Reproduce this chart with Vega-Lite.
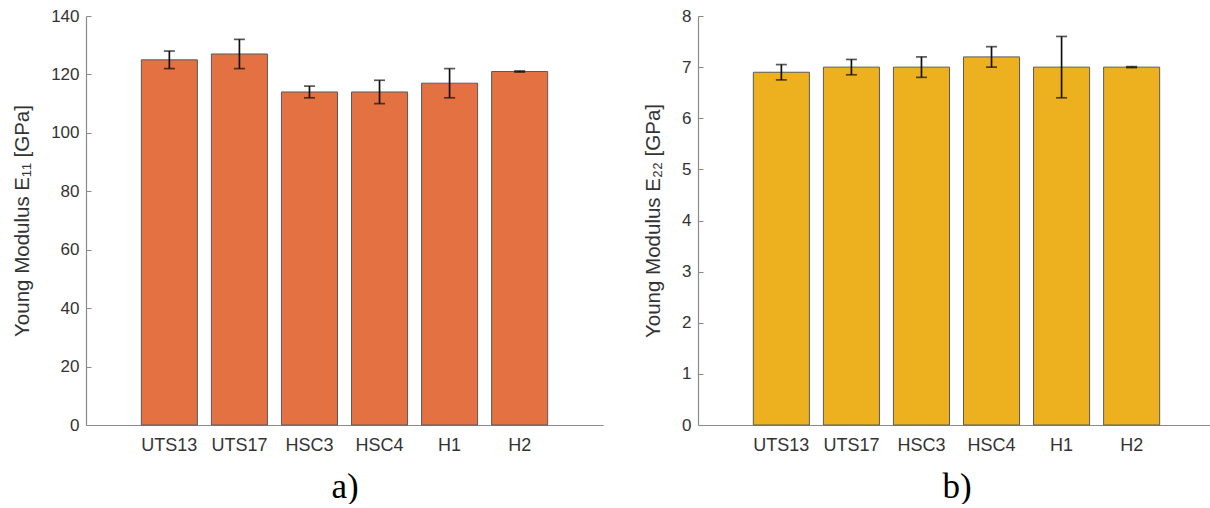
{
  "$schema": "https://vega.github.io/schema/vega-lite/v6.json",
  "autosize": {"type": "pad"},
  "padding": {"left": 12, "top": 7, "right": 0, "bottom": 0},
  "background": "white",
  "datasets": {
    "e11": [
      {"specimen": "UTS13", "mean": 125, "lo": 122, "hi": 128},
      {"specimen": "UTS17", "mean": 127, "lo": 122, "hi": 132},
      {"specimen": "HSC3", "mean": 114, "lo": 112, "hi": 116},
      {"specimen": "HSC4", "mean": 114, "lo": 110, "hi": 118},
      {"specimen": "H1", "mean": 117, "lo": 112, "hi": 122},
      {"specimen": "H2", "mean": 121, "lo": 120.8, "hi": 121.2}
    ],
    "e22": [
      {"specimen": "UTS13", "mean": 6.9, "lo": 6.75, "hi": 7.05},
      {"specimen": "UTS17", "mean": 7.0, "lo": 6.85, "hi": 7.15},
      {"specimen": "HSC3", "mean": 7.0, "lo": 6.8, "hi": 7.2},
      {"specimen": "HSC4", "mean": 7.2, "lo": 7.0, "hi": 7.4},
      {"specimen": "H1", "mean": 7.0, "lo": 6.4, "hi": 7.6},
      {"specimen": "H2", "mean": 7.0, "lo": 6.99, "hi": 7.01}
    ]
  },
  "config": {
    "view": {"stroke": null},
    "concat": {"spacing": 95},
    "axis": {
      "domainColor": "#8a8a8a",
      "tickColor": "#8a8a8a",
      "domainWidth": 1.2,
      "tickWidth": 1,
      "tickSize": -5,
      "grid": false,
      "labelFont": "Liberation Sans",
      "labelColor": "#333333",
      "titleFont": "Liberation Sans",
      "titleColor": "#333333",
      "titleFontWeight": "normal"
    }
  },
  "bounds": "flush",
  "hconcat": [
    {
      "width": 517,
      "height": 409,
      "data": {"name": "e11"},
      "encoding": {
        "x": {
          "field": "specimen",
          "type": "nominal",
          "sort": null,
          "scale": {"paddingInner": 0.2, "paddingOuter": 0.79},
          "axis": {
            "title": "a)",
            "titleFont": "Liberation Serif",
            "titleFontSize": 35,
            "titleColor": "#000000",
            "titlePadding": 15,
            "labelAngle": 0,
            "labelFontSize": 18,
            "labelPadding": 16
          }
        }
      },
      "layer": [
        {
          "mark": {"type": "bar", "color": "#E37142", "stroke": "#5a5a5a", "strokeWidth": 1},
          "encoding": {
            "y": {
              "field": "mean",
              "type": "quantitative",
              "scale": {"domain": [0, 140], "nice": false},
              "axis": {
                "title": "Young Modulus E₁₁ [GPa]",
                "titleFontSize": 20.5,
                "titlePadding": 18,
                "values": [0, 20, 40, 60, 80, 100, 120, 140],
                "labelFontSize": 17,
                "labelPadding": 12
              }
            }
          }
        },
        {
          "mark": {"type": "rule", "color": "#111111", "strokeWidth": 1.7},
          "encoding": {
            "y": {"field": "lo", "type": "quantitative"},
            "y2": {"field": "hi"}
          }
        },
        {
          "mark": {"type": "tick", "color": "#111111", "thickness": 1.7, "size": 11},
          "encoding": {"y": {"field": "lo", "type": "quantitative"}}
        },
        {
          "mark": {"type": "tick", "color": "#111111", "thickness": 1.7, "size": 11},
          "encoding": {"y": {"field": "hi", "type": "quantitative"}}
        }
      ]
    },
    {
      "width": 517,
      "height": 409,
      "data": {"name": "e22"},
      "encoding": {
        "x": {
          "field": "specimen",
          "type": "nominal",
          "sort": null,
          "scale": {"paddingInner": 0.2, "paddingOuter": 0.79},
          "axis": {
            "title": "b)",
            "titleFont": "Liberation Serif",
            "titleFontSize": 35,
            "titleColor": "#000000",
            "titlePadding": 15,
            "labelAngle": 0,
            "labelFontSize": 18,
            "labelPadding": 16
          }
        }
      },
      "layer": [
        {
          "mark": {"type": "bar", "color": "#EDB120", "stroke": "#5a5a5a", "strokeWidth": 1},
          "encoding": {
            "y": {
              "field": "mean",
              "type": "quantitative",
              "scale": {"domain": [0, 8], "nice": false},
              "axis": {
                "title": "Young Modulus E₂₂ [GPa]",
                "titleFontSize": 20.5,
                "titlePadding": 18,
                "values": [0, 1, 2, 3, 4, 5, 6, 7, 8],
                "labelFontSize": 17,
                "labelPadding": 12
              }
            }
          }
        },
        {
          "mark": {"type": "rule", "color": "#111111", "strokeWidth": 1.7},
          "encoding": {
            "y": {"field": "lo", "type": "quantitative"},
            "y2": {"field": "hi"}
          }
        },
        {
          "mark": {"type": "tick", "color": "#111111", "thickness": 1.7, "size": 11},
          "encoding": {"y": {"field": "lo", "type": "quantitative"}}
        },
        {
          "mark": {"type": "tick", "color": "#111111", "thickness": 1.7, "size": 11},
          "encoding": {"y": {"field": "hi", "type": "quantitative"}}
        }
      ]
    }
  ]
}
